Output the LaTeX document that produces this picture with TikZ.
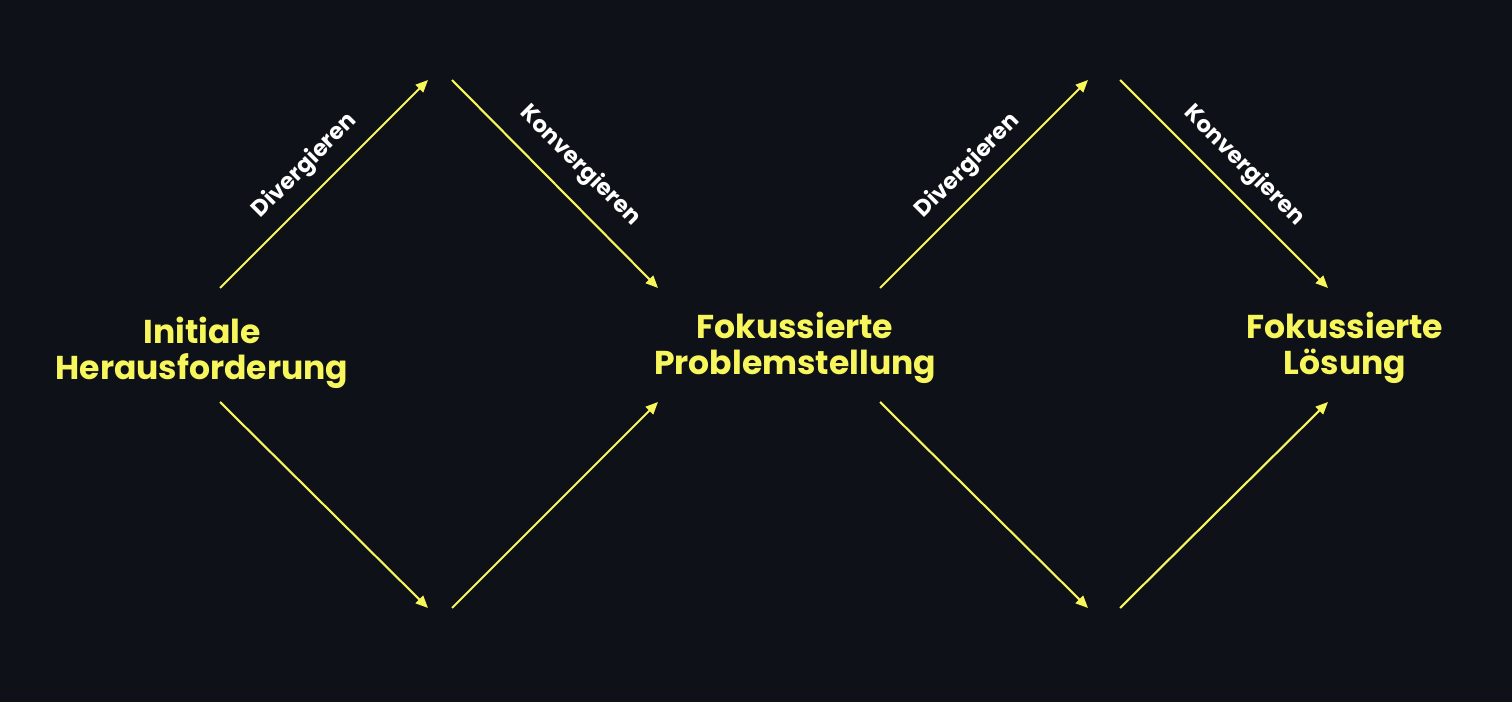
\documentclass[tikz,border=0pt]{standalone}
\usepackage{fontspec}
\setmainfont{Poppins}[BoldFont={* Bold}]
\usetikzlibrary{arrows.meta}
\definecolor{bg}{HTML}{0E1117}
\definecolor{yel}{HTML}{F7F65C}
\begin{document}
\begin{tikzpicture}[x=0.02cm,y=-0.02cm,
  flow/.style={draw=yel,line width=1.2pt,-{Triangle[length=7pt,width=6pt]}},
  stage/.style={text=yel,font=\bfseries\fontsize{18.8}{20.4}\selectfont,align=center,inner sep=0},
  lbl/.style={text=white,font=\bfseries\fontsize{13}{15}\selectfont,inner sep=0}]
\fill[bg] (0,0) rectangle (1512,702);
\node[stage] (s1) at (202,353) {Initiale\\Herausforderung};
\node[stage] (s2) at (795,348) {Fokussierte\\Problemstellung};
\node[stage] (s3) at (1345,348) {Fokussierte\\Lösung};
\coordinate (a1) at (220,288); \coordinate (t1) at (428,80);
\coordinate (a2) at (452,80);  \coordinate (t2) at (658,288);
\coordinate (a3) at (220,402); \coordinate (t3) at (428,608);
\coordinate (a4) at (452,608); \coordinate (t4) at (658,402);
\coordinate (b1) at (880,288); \coordinate (u1) at (1088,80);
\coordinate (b2) at (1120,80); \coordinate (u2) at (1328,288);
\coordinate (b3) at (880,402); \coordinate (u3) at (1088,608);
\coordinate (b4) at (1120,608);\coordinate (u4) at (1328,402);
\draw[flow] (a1) -- (t1);
\draw[flow] (a2) -- (t2);
\draw[flow] (a3) -- (t3);
\draw[flow] (a4) -- (t4);
\draw[flow] (b1) -- (u1);
\draw[flow] (b2) -- (u2);
\draw[flow] (b3) -- (u3);
\draw[flow] (b4) -- (u4);
\node[lbl,rotate=45] (d1) at (305,166) {Divergieren};
\node[lbl,rotate=-45] (k1) at (580,166) {Konvergieren};
\node[lbl,rotate=45] (d2) at (968,166) {Divergieren};
\node[lbl,rotate=-45] (k2) at (1244,166) {Konvergieren};
\end{tikzpicture}
\end{document}
